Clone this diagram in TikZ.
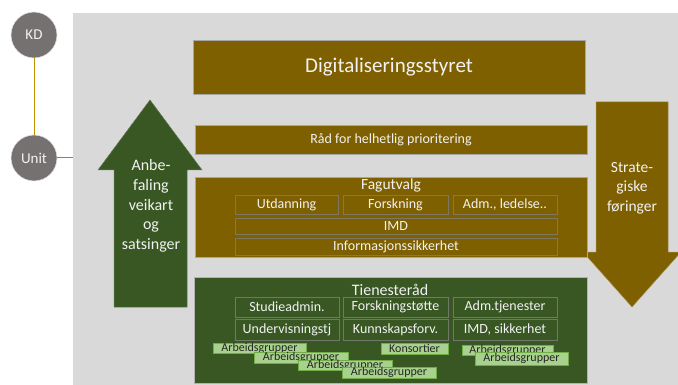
\documentclass[tikz,border=0pt]{standalone}
\usepackage{fontspec}
\setmainfont{Carlito}

\definecolor{brun}{HTML}{7F6000}
\definecolor{skoggronn}{HTML}{385723}
\definecolor{lysgronn}{HTML}{A9D18E}
\definecolor{kantgronn}{HTML}{70AD47}
\definecolor{bakgrunn}{HTML}{D9D9D9}
\definecolor{sirkel}{HTML}{767171}
\definecolor{gull}{HTML}{BF9000}
\definecolor{tekst}{HTML}{F2F2F2}
\definecolor{mork}{HTML}{262626}

\begin{document}
\begin{tikzpicture}[
    x=1pt, y=-1pt,
    every node/.style={inner sep=0pt, text=tekst},
    sirk/.style={circle, fill=sirkel, draw=white!80!sirkel, line width=0.6pt, minimum size=46pt, font=\fontsize{15}{18}\selectfont},
    boks/.style={rectangle, fill=brun, draw=gray!70, line width=0.6pt, minimum width=392pt},
    underboks/.style={rectangle, draw=gray!75!brun, line width=0.8pt, font=\fontsize{14}{16}\selectfont},
    tjboks/.style={rectangle, draw=gray!80!skoggronn, line width=0.8pt, font=\fontsize{14}{16}\selectfont},
    gruppe/.style={rectangle, fill=lysgronn, draw=kantgronn, line width=0.6pt, text=mork, font=\fontsize{12}{12}\selectfont, minimum width=94pt, minimum height=11pt},
    pil/.style={align=center, font=\fontsize{16}{19.6}\selectfont}
]
    \useasboundingbox (0,0) rectangle (678,385);
    % bakgrunn og eiere
    \node[fill=bakgrunn, minimum width=605pt, minimum height=372pt] (bg) at (375.5,199) {};
    \node[sirk] (kd) at (34,35) {KD};
    \node[sirk] (unit) at (34,158) {Unit};
    \draw[gull, line width=1pt] (kd) -- (unit);
    \draw[gray, line width=1pt] (unit.east) -- (bg.west |- unit.east);
    % piler
    \draw[fill=skoggronn, draw=skoggronn!80!white, line width=0.5pt] (150,100) -- (202,170) -- (187,170) -- (187,307) -- (114,307) -- (114,170) -- (98,170) -- cycle;
    \draw[fill=brun, draw=brun!70!white, line width=0.5pt] (596,102) -- (668,102) -- (668,252) -- (681,252) -- (632,307) -- (583,252) -- (596,252) -- cycle;
    \node[pil] (anbefaling) at (151,206) {Anbe-\\faling\\veikart\\og\\satsinger};
    \node[pil, font=\fontsize{15.5}{19.5}\selectfont] (foringer) at (632,188) {Strate-\\giske\\føringer};
    % styret og råd
    \node[boks, minimum height=54pt, font=\fontsize{21}{24}\selectfont] (styret) at (389,67) {Digitaliseringsstyret};
    \node[boks, minimum height=29pt, font=\fontsize{14}{16}\selectfont] (raad) at (391,139.5) {Råd for helhetlig prioritering};
    % fagutvalg
    \node[boks, minimum height=80pt] (fag) at (391,217) {};
    \node[font=\fontsize{15.5}{18}\selectfont] (fagtittel) at (391,185) {Fagutvalg};
    \node[underboks, minimum width=103pt, minimum height=19pt] (utd) at (286.5,204.5) {Utdanning};
    \node[underboks, minimum width=105pt, minimum height=19pt] (forsk) at (395.5,204.5) {Forskning};
    \node[underboks, minimum width=104pt, minimum height=19pt] (adm) at (505,204.5) {Adm., ledelse..};
    \node[underboks, minimum width=322pt, minimum height=16pt] (imd) at (396,226) {IMD};
    \node[underboks, minimum width=322pt, minimum height=17pt] (info) at (396,246.5) {Informasjonssikkerhet};
    % tjenesteråd
    \node[rectangle, fill=skoggronn, draw=gray!60, line width=0.6pt, minimum width=393pt, minimum height=106pt] (tjen) at (390.5,330) {};
    \node[font=\fontsize{16}{18}\selectfont] (tjentittel) at (390,290) {Tienesteråd};
    \node[tjboks, minimum width=104pt, minimum height=20pt] (studie) at (287,307) {Studieadmin.};
    \node[tjboks, minimum width=105pt, minimum height=20pt] (fstotte) at (395.5,307) {Forskningstøtte};
    \node[tjboks, minimum width=104pt, minimum height=20pt] (admtj) at (505,307) {Adm.tjenester};
    \node[tjboks, minimum width=104pt, minimum height=21pt] (underv) at (287,329.5) {Undervisningstj};
    \node[tjboks, minimum width=105pt, minimum height=21pt] (kunnskap) at (395.5,329.5) {Kunnskapsforv.};
    \node[tjboks, minimum width=104pt, minimum height=21pt] (imdsik) at (505,329.5) {IMD, sikkerhet};
    % arbeidsgrupper
    \node[gruppe, minimum width=93pt, minimum height=10pt] (grp1) at (259.5,348) {Arbeidsgrupper};
    \node[gruppe] (grp2) at (301,357.5) {Arbeidsgrupper};
    \node[gruppe, minimum height=10pt] (grp3) at (345,365) {Arbeidsgrupper};
    \node[gruppe] (grp4) at (389,372.5) {Arbeidsgrupper};
    \node[gruppe, minimum width=67pt] (kons) at (414.5,348.5) {Konsortier};
    \node[gruppe, minimum width=91pt, minimum height=10pt] (grp5) at (507.5,350) {Arbeidsgrupper};
    \node[gruppe, minimum width=93pt, minimum height=13pt] (grp6) at (521.5,358.5) {Arbeidsgrupper};
\end{tikzpicture}
\end{document}
